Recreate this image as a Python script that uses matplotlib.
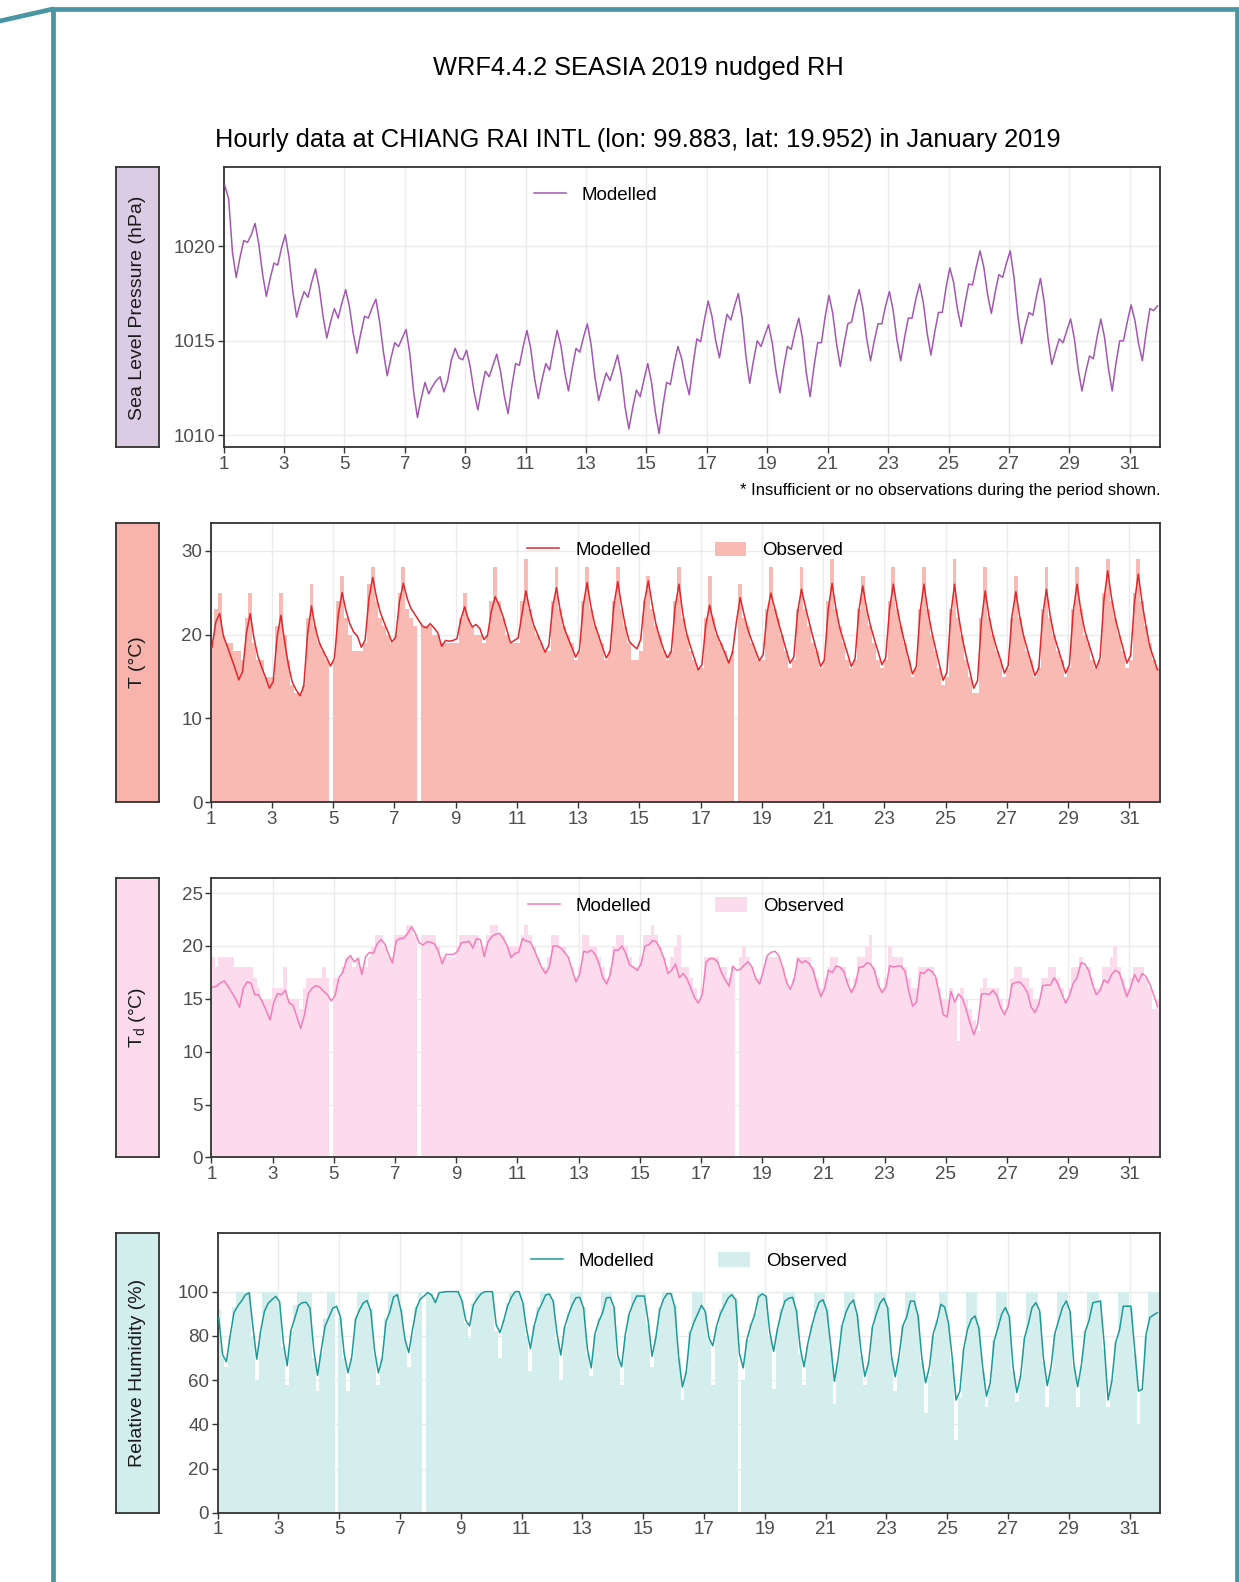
import numpy as np
import matplotlib.pyplot as plt
from matplotlib.lines import Line2D
from matplotlib.patches import Patch

plt.rcParams['font.family'] = ['Liberation Sans', 'DejaVu Sans']

nan = np.nan

# 3-hourly samples, hours since 2019-01-01 00 UTC
hours = np.arange(1, 744, 3)
days = 1 + hours / 24
day_ticks = np.arange(1, 32, 2)

# one row per day, hours 01 04 07 10 13 16 19 22 UTC
slp_model = [
    [1023.2, 1022.5, 1019.7, 1018.35, 1019.4, 1020.3, 1020.2, 1020.6],
    [1021.2, 1020.1, 1018.5, 1017.35, 1018.3, 1019.1, 1019.0, 1019.9],
    [1020.6, 1019.4, 1017.6, 1016.25, 1017.0, 1017.6, 1017.3, 1018.1],
    [1018.8, 1017.8, 1016.3, 1015.15, 1016.0, 1016.7, 1016.2, 1017.0],
    [1017.7, 1016.8, 1015.4, 1014.35, 1015.4, 1016.3, 1016.2, 1016.75],
    [1017.2, 1016.0, 1014.4, 1013.15, 1014.1, 1014.9, 1014.7, 1015.15],
    [1015.6, 1014.3, 1012.3, 1010.95, 1011.95, 1012.8, 1012.2, 1012.6],
    [1012.9, 1013.1, 1012.3, 1012.9, 1014.0, 1014.6, 1014.1, 1014.0],
    [1014.5, 1013.6, 1012.3, 1011.35, 1012.45, 1013.4, 1013.1, 1013.7],
    [1014.3, 1013.4, 1012.1, 1011.15, 1012.6, 1013.8, 1013.7, 1014.7],
    [1015.55, 1014.6, 1013.05, 1011.95, 1012.95, 1013.8, 1013.45, 1014.55],
    [1015.55, 1014.75, 1013.35, 1012.35, 1013.55, 1014.6, 1014.4, 1015.2],
    [1015.9, 1014.8, 1013.1, 1011.85, 1012.6, 1013.3, 1012.9, 1013.55],
    [1014.25, 1013.2, 1011.5, 1010.35, 1011.45, 1012.4, 1012.05, 1012.95],
    [1013.8, 1012.8, 1011.25, 1010.1, 1011.55, 1012.8, 1012.7, 1013.8],
    [1014.7, 1014.05, 1012.95, 1012.15, 1013.75, 1015.1, 1014.95, 1016.1],
    [1017.1, 1016.3, 1015.0, 1014.1, 1015.35, 1016.4, 1016.1, 1016.85],
    [1017.5, 1016.2, 1014.2, 1012.75, 1013.95, 1015.0, 1014.7, 1015.3],
    [1015.85, 1014.85, 1013.35, 1012.25, 1013.6, 1014.7, 1014.55, 1015.45],
    [1016.2, 1015.1, 1013.3, 1012.05, 1013.6, 1014.9, 1014.9, 1016.3],
    [1017.4, 1016.45, 1014.85, 1013.65, 1014.85, 1015.9, 1016.0, 1016.95],
    [1017.7, 1016.7, 1015.1, 1013.95, 1015.0, 1015.9, 1015.9, 1016.85],
    [1017.6, 1016.6, 1015.05, 1013.95, 1015.15, 1016.2, 1016.2, 1017.2],
    [1018.0, 1017.0, 1015.4, 1014.25, 1015.45, 1016.5, 1016.5, 1017.8],
    [1018.85, 1018.1, 1016.7, 1015.75, 1016.95, 1018.0, 1017.95, 1018.9],
    [1019.75, 1018.9, 1017.45, 1016.45, 1017.55, 1018.5, 1018.35, 1019.1],
    [1019.75, 1018.35, 1016.35, 1014.85, 1015.75, 1016.5, 1016.35, 1017.4],
    [1018.3, 1017.05, 1015.15, 1013.75, 1014.45, 1015.1, 1014.9, 1015.55],
    [1016.15, 1015.1, 1013.5, 1012.35, 1013.35, 1014.2, 1014.05, 1015.2],
    [1016.15, 1015.15, 1013.55, 1012.35, 1013.8, 1015.0, 1015.0, 1016.0],
    [1016.9, 1016.1, 1014.85, 1013.95, 1015.45, 1016.7, 1016.6, 1016.85],
]

t_model = [
    [18.5, 21.5, 22.5, 19.8, 18.6, 17.3, 16.0, 14.6],
    [15.6, 20.2, 22.5, 19.5, 17.4, 16.1, 14.9, 13.6],
    [14.4, 19.65, 22.3, 19.1, 16.3, 14.3, 13.4, 12.7],
    [13.9, 20.2, 23.4, 20.8, 19.1, 18.1, 17.2, 16.25],
    [17.2, 22.4, 25.0, 22.85, 21.3, 20.3, 19.8, 18.5],
    [19.3, 24.3, 26.8, 24.4, 22.6, 21.4, 20.3, 19.1],
    [19.7, 24.0, 26.1, 24.3, 23.1, 22.4, 21.7, 21.0],
    [20.8, 21.3, 20.8, 20.2, 18.6, 19.3, 19.2, 19.3],
    [19.5, 21.8, 23.3, 21.8, 20.9, 21.2, 20.7, 19.4],
    [19.9, 22.8, 24.5, 23.5, 22.2, 20.6, 19.0, 19.3],
    [19.6, 22.5, 25.2, 23.0, 21.2, 20.1, 19.0, 17.9],
    [18.7, 23.3, 25.6, 22.8, 20.8, 19.6, 18.5, 17.3],
    [18.2, 23.5, 26.2, 23.3, 21.2, 19.9, 18.5, 17.2],
    [18.0, 23.5, 26.3, 23.5, 21.0, 19.2, 18.7, 18.3],
    [19.4, 24.0, 26.4, 23.6, 21.2, 19.6, 18.2, 17.2],
    [18.0, 23.3, 26.0, 22.5, 20.1, 18.6, 17.2, 15.8],
    [16.4, 21.1, 23.5, 21.5, 19.9, 18.9, 17.8, 16.6],
    [17.9, 21.5, 24.4, 22.4, 20.6, 19.3, 18.1, 16.9],
    [17.6, 22.5, 24.95, 23.2, 21.4, 19.8, 18.2, 16.6],
    [17.3, 22.7, 25.4, 23.4, 21.5, 19.7, 18.0, 16.2],
    [17.0, 23.0, 26.1, 23.1, 20.8, 19.3, 17.8, 16.2],
    [17.1, 22.85, 25.8, 23.2, 21.1, 19.5, 18.0, 16.4],
    [17.2, 23.0, 26.0, 23.2, 20.85, 19.0, 17.2, 15.3],
    [16.2, 22.7, 26.0, 22.9, 20.4, 18.4, 16.5, 14.55],
    [15.5, 22.4, 26.0, 22.35, 19.6, 17.5, 15.6, 13.6],
    [14.5, 21.6, 25.2, 22.2, 19.95, 18.4, 17.0, 15.4],
    [16.3, 22.2, 25.1, 22.2, 19.9, 18.3, 16.7, 15.1],
    [16.0, 22.2, 25.4, 22.2, 19.9, 18.4, 16.9, 15.4],
    [16.4, 22.75, 26.0, 22.8, 20.5, 19.0, 17.5, 16.0],
    [17.2, 24.05, 27.6, 24.4, 21.9, 20.1, 18.4, 16.6],
    [17.5, 23.9, 27.2, 23.8, 21.0, 18.6, 17.2, 15.8],
]

t_obs = [
    [19, 23, 25, 20, 19, 19, 18, 18],
    [17, 22, 25, 19, 17, 17, 15, 15],
    [15, 21, 25, 20, 17, 14, 13, 13],
    [14, 22, 26, 21, 19, 18, 17, nan],
    [17, 24, 27, 22, 20, 18, 18, 18],
    [19, 26, 28, 24, 22, 21, 20, 19],
    [20, 25, 28, 23, 22, 21, nan, 21],
    [21, 21, 20, 20, 19, 19, 19, 19],
    [19, 22, 25, 22, 21, 20, 20, 19],
    [20, 24, 28, 24, 22, 20, 19, 19],
    [19, 24, 29, 23, 21, 20, 19, 18],
    [18, 24, 28, 23, 21, 20, 19, 17],
    [18, 24, 28, 23, 21, 20, 19, 17],
    [18, 24, 28, 23, 21, 19, 17, 17],
    [18, 24, 27, 23, 21, 20, 18, 17],
    [18, 24, 28, 22, 20, 18, 17, 16],
    [16, 22, 27, 22, 20, 19, 18, 17],
    [18, nan, 26, 22, 21, 19, 18, 17],
    [17, 23, 28, 23, 22, 20, 18, 16],
    [17, 23, 28, 23, 21, 19, 18, 16],
    [17, 24, 29, 23, 21, 19, 17, 16],
    [17, 23, 27, 23, 21, 19, 17, 16],
    [17, 24, 28, 23, 21, 19, 17, 15],
    [16, 23, 28, 23, 20, 18, 16, 14],
    [15, 23, 29, 22, 20, 17, 15, 13],
    [13, 22, 28, 22, 20, 18, 17, 15],
    [16, 22, 27, 22, 20, 18, 17, 15],
    [16, 23, 28, 22, 20, 18, 17, 15],
    [16, 23, 28, 23, 20, 19, 17, 16],
    [17, 25, 29, 24, 22, 20, 18, 16],
    [17, 25, 29, 24, 21, 19, 17, 16],
]

td_model = [
    [16.1, 16.2, 16.5, 16.7, 16.2, 15.6, 15.0, 14.2],
    [16.0, 16.6, 16.5, 15.4, 15.4, 14.7, 13.9, 13.0],
    [14.7, 15.5, 15.4, 15.8, 14.6, 14.4, 13.3, 12.2],
    [13.5, 15.5, 16.0, 16.25, 16.1, 15.7, 15.4, 14.8],
    [15.3, 17.0, 17.5, 18.7, 19.1, 18.5, 18.8, 17.3],
    [19.0, 19.4, 19.3, 20.2, 20.6, 20.2, 19.2, 18.4],
    [20.5, 20.7, 20.75, 21.2, 21.8, 21.2, 20.3, 20.1],
    [20.4, 20.35, 20.2, 19.5, 18.3, 19.2, 19.2, 19.2],
    [19.5, 20.3, 20.35, 20.45, 19.8, 20.7, 20.6, 19.0],
    [20.4, 20.9, 21.1, 21.2, 20.7, 20.0, 18.9, 19.3],
    [19.4, 20.7, 20.45, 20.4, 19.7, 18.8, 18.0, 17.4],
    [18.0, 20.0, 20.0, 19.8, 19.4, 18.9, 17.7, 16.6],
    [17.4, 19.5, 19.4, 19.6, 19.2, 18.3, 17.0, 16.4],
    [17.4, 19.6, 19.6, 20.0, 19.3, 18.2, 18.0, 17.7],
    [18.3, 20.0, 20.1, 20.5, 20.4, 19.7, 18.8, 17.4],
    [17.7, 18.3, 17.0, 17.4, 16.9, 16.0, 15.1, 14.6],
    [15.4, 18.5, 18.8, 18.8, 18.5, 17.5, 16.8, 16.2],
    [18.1, 17.7, 17.8, 18.2, 18.5, 18.0, 16.9, 16.4],
    [17.7, 19.1, 19.4, 19.5, 19.1, 18.0, 16.6, 15.9],
    [16.8, 18.8, 18.4, 18.6, 18.3, 17.7, 16.3, 15.2],
    [16.0, 17.7, 17.5, 18.1, 18.0, 17.6, 16.4, 15.6],
    [16.3, 18.0, 18.0, 18.4, 18.3, 17.7, 16.3, 15.6],
    [16.1, 18.15, 18.0, 18.1, 18.1, 17.6, 15.7, 14.3],
    [14.7, 17.5, 17.4, 17.8, 17.6, 17.1, 15.4, 13.5],
    [13.3, 15.7, 14.7, 15.45, 15.05, 14.0, 12.7, 11.6],
    [12.6, 15.45, 15.5, 15.4, 15.8, 15.3, 14.2, 13.5],
    [14.3, 16.4, 16.55, 16.6, 16.2, 15.6, 14.2, 13.7],
    [14.5, 16.25, 16.3, 16.3, 17.0, 16.4, 15.5, 14.6],
    [15.3, 16.5, 17.0, 18.4, 18.3, 17.7, 16.4, 15.4],
    [15.8, 16.8, 16.5, 17.3, 17.7, 17.5, 16.4, 15.2],
    [16.1, 17.3, 16.6, 17.4, 17.1, 16.4, 15.4, 14.3],
]

td_obs = [
    [19, 18, 19, 19, 19, 19, 18, 18],
    [18, 18, 18, 17, 16, 15, 15, 15],
    [16, 16, 16, 18, 15, 15, 15, 14],
    [16, 17, 17, 17, 17, 18, 17, nan],
    [17, 17, 18, 19, 19, 18, 19, 18],
    [18, 19, 20, 21, 21, 20, 19, 19],
    [21, 21, 21, 22, 22, 21, nan, 21],
    [21, 21, 21, 20, 19, 19, 19, 19],
    [20, 21, 21, 21, 21, 21, 20, 20],
    [21, 22, 22, 21, 21, 20, 20, 20],
    [20, 21, 22, 21, 20, 19, 18, 18],
    [19, 21, 21, 20, 20, 19, 18, 17],
    [18, 21, 21, 20, 20, 19, 18, 17],
    [18, 20, 21, 21, 20, 19, 18, 18],
    [19, 21, 21, 22, 21, 20, 19, 18],
    [19, 20, 21, 18, 18, 17, 16, 15],
    [16, 19, 19, 19, 19, 18, 18, 17],
    [18, nan, 19, 20, 19, 18, 17, 17],
    [18, 19, 19, 19, 19, 18, 17, 16],
    [17, 19, 19, 19, 19, 18, 17, 16],
    [17, 18, 19, 19, 18, 18, 17, 16],
    [17, 19, 19, 20, 21, 18, 17, 16],
    [17, 20, 19, 19, 19, 18, 17, 16],
    [16, 18, 18, 18, 18, 17, 16, 15],
    [15, 16, 15, 11, 16, 15, 14, 13],
    [12, 16, 17, 16, 16, 16, 15, 14],
    [15, 17, 18, 18, 17, 17, 16, 15],
    [15, 17, 17, 18, 18, 17, 16, 15],
    [16, 18, 18, 19, 18, 18, 17, 16],
    [16, 18, 18, 19, 20, 18, 17, 16],
    [17, 18, 18, 18, 17, 16, 14, 15],
]

rh_model = [
    [88, 71.5, 68.3, 80, 90.5, 93.5, 95.8, 98.6],
    [99.5, 84, 69.5, 82, 91, 94.7, 96.4, 97.8],
    [95.5, 77, 66.5, 82.5, 88, 93.8, 95, 95.2],
    [92.6, 73.7, 62.1, 74, 84.5, 88.5, 92.5, 93.4],
    [88.6, 72, 63.3, 70.5, 87.5, 91.6, 94.8, 96.0],
    [91.3, 73.5, 63.3, 69.7, 86.5, 90.8, 97.6, 98.6],
    [91, 78.3, 72.5, 83, 92.5, 96.5, 98, 99.6],
    [98.5, 95, 99.5, 99.8, 100, 100, 100, 100],
    [95.7, 87, 84.5, 94, 96.8, 99, 100, 100],
    [100, 85, 81.5, 87, 93.5, 97.5, 100, 100],
    [95, 83, 74.3, 84.5, 91, 94.5, 98.5, 98.9],
    [95.6, 81, 71.3, 84, 89.5, 94, 97.3, 97.4],
    [92.5, 74, 65.5, 81, 86.5, 90.5, 97.2, 97.4],
    [93, 71, 66, 81, 90, 94.5, 98, 98],
    [98, 86.5, 70.8, 79, 91.5, 96.5, 99.1, 99.1],
    [93, 70.5, 56.9, 63.5, 81, 86, 89.8, 93.8],
    [91, 79, 75.5, 84.5, 90, 93.5, 97, 98.6],
    [96.4, 72, 65.5, 78.5, 84.7, 89.5, 97.5, 99],
    [97.9, 81.5, 73, 83, 90.5, 95.8, 97, 97.4],
    [91.3, 74.5, 66, 76.5, 84, 90.5, 95.3, 96.3],
    [91.5, 76, 59.5, 70, 84.5, 90.5, 94.3, 96.2],
    [89.4, 73, 61.7, 68, 84, 89.7, 94.8, 97],
    [92.7, 71, 61.5, 71, 84.5, 88.5, 95.7, 95.7],
    [89, 70, 58.8, 66, 81, 86.5, 94.3, 93],
    [85.8, 70, 51, 55, 74, 82.8, 87.5, 89],
    [83.4, 66, 52.7, 58.8, 77.5, 83.5, 89.8, 92.8],
    [88.6, 66, 54.4, 62, 79, 85.2, 92.8, 95],
    [91.3, 70, 57.5, 66, 81, 87, 92.8, 95.8],
    [91, 67, 57, 67, 82, 87, 95, 95.4],
    [95.7, 76, 51, 59.6, 77, 82.5, 93.4, 93.4],
    [93.4, 74, 55, 55.8, 80.5, 88.3, 89.5, 90.5],
]

rh_obs = [
    [92, 70, 66, 80, 93, 100, 100, 100],
    [100, 80, 60, 82, 100, 100, 100, 100],
    [94, 75, 58, 82, 94, 100, 100, 100],
    [100, 70, 55, 72, 88, 100, 100, nan],
    [88, 70, 55, 70, 88, 100, 100, 100],
    [92, 72, 58, 70, 88, 100, 100, 100],
    [92, 78, 66, 80, 93, 100, nan, 100],
    [100, 97, 100, 100, 100, 100, 100, 100],
    [96, 86, 79, 95, 100, 100, 100, 100],
    [100, 82, 70, 87, 95, 100, 100, 100],
    [95, 80, 64, 85, 93, 100, 100, 100],
    [96, 78, 60, 84, 90, 100, 100, 100],
    [93, 72, 62, 80, 88, 100, 100, 100],
    [93, 70, 58, 80, 90, 100, 100, 100],
    [100, 85, 66, 79, 93, 100, 100, 100],
    [94, 70, 51, 64, 82, 100, 100, 100],
    [91, 78, 58, 84, 92, 100, 100, 100],
    [97, nan, 60, 78, 86, 90, 100, 100],
    [98, 80, 56, 83, 92, 100, 100, 100],
    [92, 72, 58, 76, 85, 100, 100, 100],
    [92, 74, 49, 68, 85, 100, 100, 100],
    [90, 71, 58, 68, 84, 100, 100, 100],
    [93, 70, 55, 70, 85, 100, 100, 100],
    [90, 68, 45, 62, 80, 87, 100, 100],
    [86, 68, 33, 52, 74, 100, 100, 100],
    [84, 64, 48, 58, 78, 100, 100, 100],
    [89, 64, 50, 62, 79, 100, 100, 100],
    [91, 68, 48, 64, 81, 100, 100, 100],
    [91, 66, 48, 66, 82, 100, 100, 100],
    [96, 74, 48, 60, 77, 100, 100, 100],
    [93, 72, 40, 55, 80, 100, 100, 100],
]

W, H = 1239, 1582
fig = plt.figure(figsize=(W / 100, H / 100), dpi=100)


def px_axes(left, top, right, bottom):
    return fig.add_axes([left / W, 1 - bottom / H, (right - left) / W, (bottom - top) / H])


panels = [
    dict(model=slp_model, obs=None, line='#A357B2', fill='#DCCBE4', box='#DCCBE4',
         label='Sea Level Pressure (hPa)', ylim=(1009.37, 1024.16), yticks=[1010, 1015, 1020],
         left=223.6, top=167.4, bottom=447.4),
    dict(model=t_model, obs=t_obs, line='#E3262B', fill='#F8BAB3', box='#F8B4AC',
         label='T (°C)', ylim=(0, 33.35), yticks=[0, 10, 20, 30],
         left=210.7, top=522.5, bottom=802.4),
    dict(model=td_model, obs=td_obs, line='#F47DB9', fill='#FCDBEC', box='#FCD9EB',
         label=r'$\mathregular{T_d}$ (°C)', ylim=(0, 26.45), yticks=[0, 5, 10, 15, 20, 25],
         left=211.4, top=877.8, bottom=1157.4),
    dict(model=rh_model, obs=rh_obs, line='#1D9A98', fill='#D4EEED', box='#D1EDEC',
         label='Relative Humidity (%)', ylim=(0, 126.6), yticks=[0, 20, 40, 60, 80, 100],
         left=217.5, top=1232.8, bottom=1512.8),
]

for p in panels:
    ax = px_axes(p['left'], p['top'], 1160, p['bottom'])
    model = np.array(p['model'], dtype=float).ravel()
    if p['obs'] is not None:
        obs = np.nan_to_num(np.array(p['obs'], dtype=float).ravel())
        ax.bar(days, obs, width=3 / 24, color=p['fill'], linewidth=0,
               antialiased=False, zorder=2)
    ax.plot(days, model, color=p['line'], lw=1.1, zorder=3)
    ax.set_xlim(1, 32)
    ax.set_ylim(*p['ylim'])
    ax.set_xticks(day_ticks)
    ax.set_yticks(p['yticks'])
    ax.grid(color='#EBEBEB', lw=1.0)
    ax.set_axisbelow(True)
    for s in ax.spines.values():
        s.set_color('#333333')
        s.set_linewidth(1.3)
    ax.tick_params(length=4, width=1, color='#333333', labelcolor='#4D4D4D',
                   labelsize=13.5, pad=2)

    handles = [Line2D([], [], color=p['line'], lw=1.1),
               Patch(facecolor=p['fill'], edgecolor='none')]
    leg = ax.legend(handles, ['Modelled', 'Observed'], ncol=2, frameon=False,
                    loc='center', bbox_to_anchor=(0.5, 0.9), fontsize=13.5,
                    handlelength=1.7, handleheight=0.85, handletextpad=0.85,
                    columnspacing=3.4)
    if p['obs'] is None:
        leg.legend_handles[1].set_visible(False)
        leg.get_texts()[1].set_visible(False)

    box = px_axes(115.7, p['top'], 159, p['bottom'])
    box.set_facecolor(p['box'])
    box.set_xticks([])
    box.set_yticks([])
    for s in box.spines.values():
        s.set_color('#333333')
        s.set_linewidth(1.3)
    box.text(0.5, 0.5, p['label'], rotation=90, ha='center', va='center',
             fontsize=14, color='#1A1A1A', transform=box.transAxes)

fig.text(638 / W, 1 - 67.6 / H, 'WRF4.4.2 SEASIA 2019 nudged RH',
         ha='center', va='center', fontsize=18.3)
fig.text(638 / W, 1 - 140.2 / H,
         'Hourly data at CHIANG RAI INTL (lon: 99.883, lat: 19.952) in January 2019',
         ha='center', va='center', fontsize=18.3)
fig.text(1160 / W, 1 - 491 / H, '* Insufficient or no observations during the period shown.',
         ha='right', va='center', fontsize=12)

# card outline
frame = '#4A95A3'
for xs, ys in [([0, 53], [21, 9]), ([53, 1236.5], [8.6, 8.6]),
               ([53, 53], [8.6, H]), ([1236.5, 1236.5], [8.6, H])]:
    fig.add_artist(Line2D([x / W for x in xs], [1 - y / H for y in ys],
                          color=frame, lw=3.4, solid_capstyle='round',
                          transform=fig.transFigure))

fig.savefig('out.png', dpi=100)
